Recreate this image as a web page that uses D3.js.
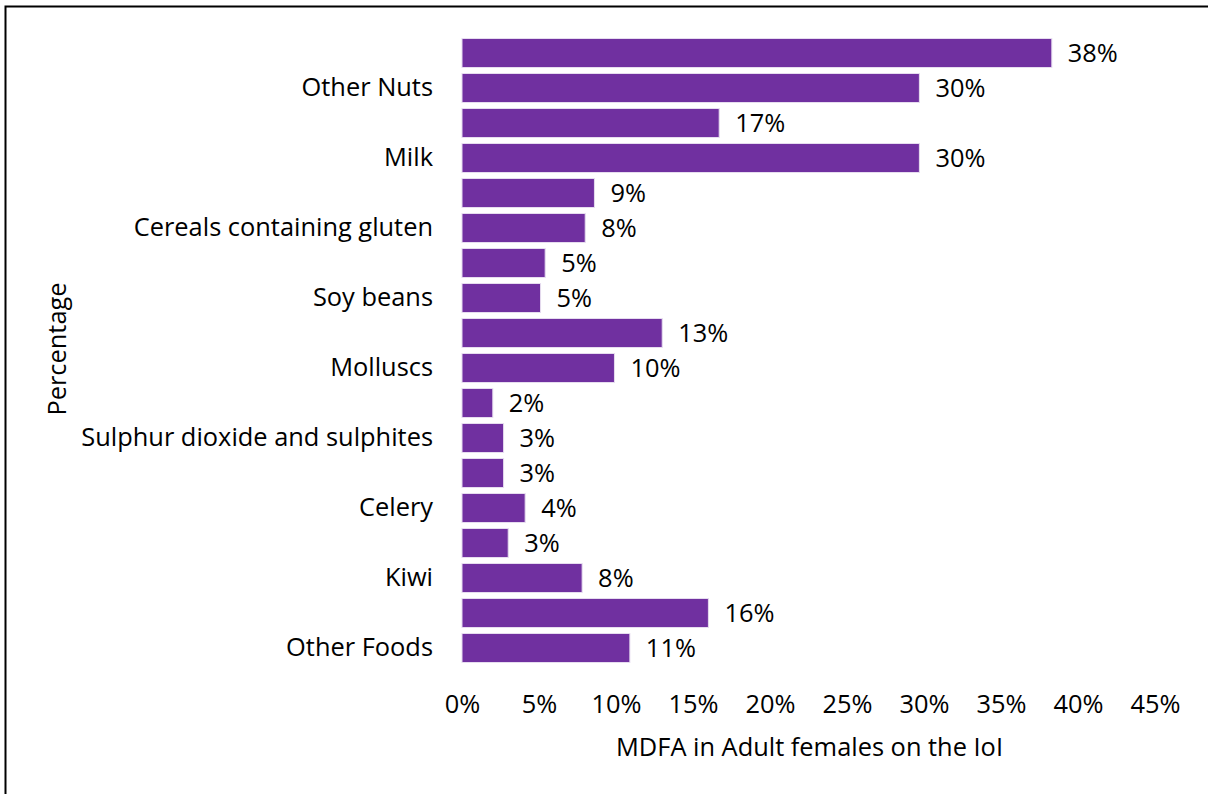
<!DOCTYPE html>
<html>
<head>
<meta charset="utf-8">
<script src="https://cdn.jsdelivr.net/npm/d3@7"></script>
<style>
  html, body { margin: 0; padding: 0; background: #fff; }
  svg { display: block; font-family: "Open Sans", sans-serif; }
</style>
</head>
<body>
<svg id="chart" width="1208" height="794"></svg>
<script>
// Row keys (one per bar, top to bottom) and the label shown beside each row
const rowKeys = d3.range(18);
const rowLabels = ["", "Other Nuts", "", "Milk", "", "Cereals containing gluten", "", "Soy beans",
  "", "Molluscs", "", "Sulphur dioxide and sulphites", "", "Celery", "", "Kiwi", "", "Other Foods"];
// Share of adult females (per cent)
const values = [38.3, 29.7, 16.7, 29.7, 8.6, 8.0, 5.4, 5.1, 13.0, 9.9, 2.0, 2.7, 2.7, 4.1, 3.0, 7.8, 16.0, 10.9];
const xTicks = [0, 5, 10, 15, 20, 25, 30, 35, 40, 45];
const xTitle = "MDFA in Adult females on the IoI";
const yTitle = "Percentage";

const svg = d3.select("#chart");
const barColor = "#7030A0";
const fontSize = 25.4;

// frame around the whole chart
svg.append("rect")
  .attr("x", 5.5).attr("y", 6.5)
  .attr("width", 1208).attr("height", 800)
  .attr("fill", "none").attr("stroke", "#000").attr("stroke-width", 2);

const x = d3.scaleLinear().domain([0, 45]).range([462, 1155]);
const y = d3.scaleBand().domain(rowKeys).range([35.5, 665.5]).paddingInner(6 / 35).paddingOuter(3 / 35);

// bars
svg.append("g").selectAll("rect")
  .data(rowKeys)
  .join("rect")
  .attr("x", x(0))
  .attr("y", i => y(i))
  .attr("width", i => x(values[i]) - x(0))
  .attr("height", y.bandwidth())
  .attr("fill", barColor)
  .attr("stroke", "#e6dcef")
  .attr("stroke-width", 1);

// value labels
svg.append("g").selectAll("text")
  .data(rowKeys)
  .join("text")
  .attr("x", i => x(values[i]) + 16)
  .attr("y", i => y(i) + y.bandwidth() / 2)
  .attr("dy", "0.36em")
  .attr("font-size", fontSize)
  .attr("fill", "#000")
  .text(i => Math.round(values[i]) + "%");

// category axis (labels only)
const yAxis = d3.axisLeft(y).tickSize(0).tickPadding(29).tickFormat(i => rowLabels[i]);
const gy = svg.append("g").attr("transform", `translate(${x(0)},0)`).call(yAxis);
gy.select(".domain").remove();
gy.selectAll("text")
  .attr("font-size", fontSize)
  .attr("font-family", "Open Sans, sans-serif")
  .attr("fill", "#000");

// value axis (labels only)
const xAxis = d3.axisBottom(x).tickValues(xTicks).tickSize(0).tickPadding(0).tickFormat(d => d + "%");
const gx = svg.append("g").attr("transform", "translate(0,713)").call(xAxis);
gx.select(".domain").remove();
gx.selectAll("text")
  .attr("dy", 0)
  .attr("font-size", fontSize)
  .attr("font-family", "Open Sans, sans-serif")
  .attr("fill", "#000");

// axis titles
svg.append("text")
  .attr("x", (x(0) + x(45)) / 2 + 1)
  .attr("y", 756)
  .attr("text-anchor", "middle")
  .attr("font-size", fontSize)
  .attr("fill", "#000")
  .text(xTitle);

svg.append("text")
  .attr("transform", "translate(66,349) rotate(-90)")
  .attr("text-anchor", "middle")
  .attr("font-size", fontSize)
  .attr("fill", "#000")
  .text(yTitle);
</script>
</body>
</html>
